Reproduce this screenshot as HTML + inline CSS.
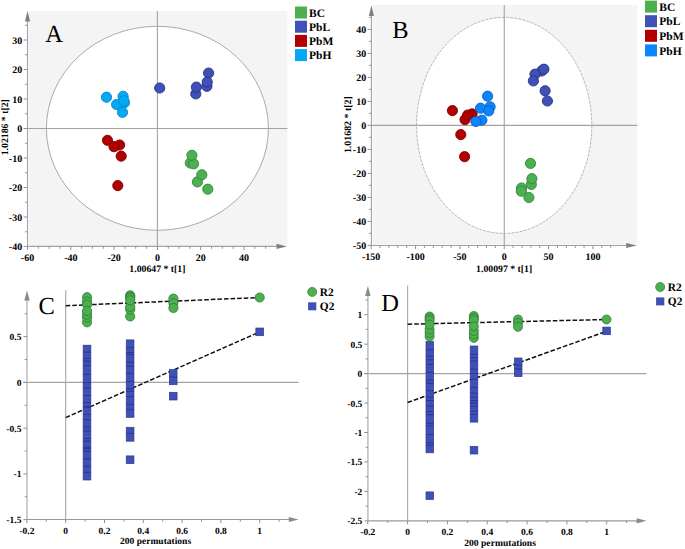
<!DOCTYPE html>
<html><head><meta charset="utf-8"><title>Figure</title>
<style>
html,body{margin:0;padding:0;background:#fff;}
body{width:685px;height:549px;overflow:hidden;font-family:"Liberation Serif",serif;}
svg{display:block;text-rendering:geometricPrecision;}
</style></head><body>
<svg width="685" height="549" viewBox="0 0 685 549">
<rect x="0" y="0" width="685" height="549" fill="#fff"/>
<rect x="28.7" y="10.9" width="258.7" height="235.5" fill="#f4f4f4"/>
<ellipse cx="157.4" cy="128.3" rx="111" ry="102" fill="#fff" stroke="#a0a0a0" stroke-width="0.9"/>
<line x1="27.5" y1="128.5" x2="287.4" y2="128.5" stroke="#a2a2a2" stroke-width="1.1" />
<line x1="157.4" y1="10.9" x2="157.4" y2="246.4" stroke="#a2a2a2" stroke-width="1.1" />
<line x1="27.5" y1="246.4" x2="27.5" y2="20" stroke="#a3a3a3" stroke-width="1.1" />
<path d="M27.5 10.8 L24.95 21.6 L30.05 21.6 Z" fill="#808080"/>
<line x1="27.5" y1="246.4" x2="278" y2="246.4" stroke="#a3a3a3" stroke-width="1.1" />
<path d="M286.8 246.4 L276.5 243.85 L276.5 248.95 Z" fill="#808080"/>
<line x1="23.7" y1="246.5" x2="27.5" y2="246.5" stroke="#929292" stroke-width="1.0" />
<text x="22.2" y="250.1" font-size="10" text-anchor="end" font-family="Liberation Serif" font-weight="bold" >-40</text>
<line x1="25.1" y1="231.75" x2="27.5" y2="231.75" stroke="#929292" stroke-width="1.0" />
<line x1="23.7" y1="217" x2="27.5" y2="217" stroke="#929292" stroke-width="1.0" />
<text x="22.2" y="220.6" font-size="10" text-anchor="end" font-family="Liberation Serif" font-weight="bold" >-30</text>
<line x1="25.1" y1="202.25" x2="27.5" y2="202.25" stroke="#929292" stroke-width="1.0" />
<line x1="23.7" y1="187.5" x2="27.5" y2="187.5" stroke="#929292" stroke-width="1.0" />
<text x="22.2" y="191.1" font-size="10" text-anchor="end" font-family="Liberation Serif" font-weight="bold" >-20</text>
<line x1="25.1" y1="172.75" x2="27.5" y2="172.75" stroke="#929292" stroke-width="1.0" />
<line x1="23.7" y1="158" x2="27.5" y2="158" stroke="#929292" stroke-width="1.0" />
<text x="22.2" y="161.6" font-size="10" text-anchor="end" font-family="Liberation Serif" font-weight="bold" >-10</text>
<line x1="25.1" y1="143.25" x2="27.5" y2="143.25" stroke="#929292" stroke-width="1.0" />
<line x1="23.7" y1="128.5" x2="27.5" y2="128.5" stroke="#929292" stroke-width="1.0" />
<text x="22.2" y="132.1" font-size="10" text-anchor="end" font-family="Liberation Serif" font-weight="bold" >0</text>
<line x1="25.1" y1="113.75" x2="27.5" y2="113.75" stroke="#929292" stroke-width="1.0" />
<line x1="23.7" y1="99" x2="27.5" y2="99" stroke="#929292" stroke-width="1.0" />
<text x="22.2" y="102.6" font-size="10" text-anchor="end" font-family="Liberation Serif" font-weight="bold" >10</text>
<line x1="25.1" y1="84.25" x2="27.5" y2="84.25" stroke="#929292" stroke-width="1.0" />
<line x1="23.7" y1="69.5" x2="27.5" y2="69.5" stroke="#929292" stroke-width="1.0" />
<text x="22.2" y="73.1" font-size="10" text-anchor="end" font-family="Liberation Serif" font-weight="bold" >20</text>
<line x1="25.1" y1="54.75" x2="27.5" y2="54.75" stroke="#929292" stroke-width="1.0" />
<line x1="23.7" y1="40" x2="27.5" y2="40" stroke="#929292" stroke-width="1.0" />
<text x="22.2" y="43.6" font-size="10" text-anchor="end" font-family="Liberation Serif" font-weight="bold" >30</text>
<line x1="25.1" y1="25.25" x2="27.5" y2="25.25" stroke="#929292" stroke-width="1.0" />
<line x1="27.5" y1="246.4" x2="27.5" y2="250" stroke="#929292" stroke-width="1.0" />
<text x="27.5" y="260.5" font-size="10" text-anchor="middle" font-family="Liberation Serif" font-weight="bold" >-60</text>
<line x1="38.33" y1="246.4" x2="38.33" y2="248.8" stroke="#929292" stroke-width="1.0" />
<line x1="49.15" y1="246.4" x2="49.15" y2="248.8" stroke="#929292" stroke-width="1.0" />
<line x1="59.98" y1="246.4" x2="59.98" y2="248.8" stroke="#929292" stroke-width="1.0" />
<line x1="70.8" y1="246.4" x2="70.8" y2="250" stroke="#929292" stroke-width="1.0" />
<text x="70.8" y="260.5" font-size="10" text-anchor="middle" font-family="Liberation Serif" font-weight="bold" >-40</text>
<line x1="81.62" y1="246.4" x2="81.62" y2="248.8" stroke="#929292" stroke-width="1.0" />
<line x1="92.45" y1="246.4" x2="92.45" y2="248.8" stroke="#929292" stroke-width="1.0" />
<line x1="103.28" y1="246.4" x2="103.28" y2="248.8" stroke="#929292" stroke-width="1.0" />
<line x1="114.1" y1="246.4" x2="114.1" y2="250" stroke="#929292" stroke-width="1.0" />
<text x="114.1" y="260.5" font-size="10" text-anchor="middle" font-family="Liberation Serif" font-weight="bold" >-20</text>
<line x1="124.93" y1="246.4" x2="124.93" y2="248.8" stroke="#929292" stroke-width="1.0" />
<line x1="135.75" y1="246.4" x2="135.75" y2="248.8" stroke="#929292" stroke-width="1.0" />
<line x1="146.58" y1="246.4" x2="146.58" y2="248.8" stroke="#929292" stroke-width="1.0" />
<line x1="157.4" y1="246.4" x2="157.4" y2="250" stroke="#929292" stroke-width="1.0" />
<text x="157.4" y="260.5" font-size="10" text-anchor="middle" font-family="Liberation Serif" font-weight="bold" >0</text>
<line x1="168.22" y1="246.4" x2="168.22" y2="248.8" stroke="#929292" stroke-width="1.0" />
<line x1="179.05" y1="246.4" x2="179.05" y2="248.8" stroke="#929292" stroke-width="1.0" />
<line x1="189.88" y1="246.4" x2="189.88" y2="248.8" stroke="#929292" stroke-width="1.0" />
<line x1="200.7" y1="246.4" x2="200.7" y2="250" stroke="#929292" stroke-width="1.0" />
<text x="200.7" y="260.5" font-size="10" text-anchor="middle" font-family="Liberation Serif" font-weight="bold" >20</text>
<line x1="211.53" y1="246.4" x2="211.53" y2="248.8" stroke="#929292" stroke-width="1.0" />
<line x1="222.35" y1="246.4" x2="222.35" y2="248.8" stroke="#929292" stroke-width="1.0" />
<line x1="233.18" y1="246.4" x2="233.18" y2="248.8" stroke="#929292" stroke-width="1.0" />
<line x1="244" y1="246.4" x2="244" y2="250" stroke="#929292" stroke-width="1.0" />
<text x="244" y="260.5" font-size="10" text-anchor="middle" font-family="Liberation Serif" font-weight="bold" >40</text>
<line x1="254.82" y1="246.4" x2="254.82" y2="248.8" stroke="#929292" stroke-width="1.0" />
<line x1="265.65" y1="246.4" x2="265.65" y2="248.8" stroke="#929292" stroke-width="1.0" />
<text x="157.4" y="272.4" font-size="9.75" text-anchor="middle" font-family="Liberation Serif" font-weight="bold" >1.00647 * t[1]</text>
<text transform="translate(8.3 127.25) rotate(-90)" font-size="9.75" text-anchor="middle" font-family="Liberation Serif" font-weight="bold">1.02186 * t[2]</text>
<text x="45.3" y="42.3" font-size="24.5" font-family="Liberation Serif">A</text>
<circle cx="190.3" cy="163" r="5.1" fill="#4caf50" stroke="#33873a" stroke-width="0.9"/>
<circle cx="193.6" cy="163.8" r="5.1" fill="#4caf50" stroke="#33873a" stroke-width="0.9"/>
<circle cx="191.9" cy="155.3" r="5.1" fill="#4caf50" stroke="#33873a" stroke-width="0.9"/>
<circle cx="197.4" cy="181.9" r="5.1" fill="#4caf50" stroke="#33873a" stroke-width="0.9"/>
<circle cx="201.8" cy="174.8" r="5.1" fill="#4caf50" stroke="#33873a" stroke-width="0.9"/>
<circle cx="207.8" cy="189.2" r="5.1" fill="#4caf50" stroke="#33873a" stroke-width="0.9"/>
<circle cx="159.7" cy="88" r="5.1" fill="#3f51b5" stroke="#26318a" stroke-width="0.9"/>
<circle cx="195.8" cy="93.9" r="5.1" fill="#3f51b5" stroke="#26318a" stroke-width="0.9"/>
<circle cx="196.4" cy="87.1" r="5.1" fill="#3f51b5" stroke="#26318a" stroke-width="0.9"/>
<circle cx="208.6" cy="73.1" r="5.1" fill="#3f51b5" stroke="#26318a" stroke-width="0.9"/>
<circle cx="206.9" cy="86.3" r="5.1" fill="#3f51b5" stroke="#26318a" stroke-width="0.9"/>
<circle cx="207.2" cy="82" r="5.1" fill="#3f51b5" stroke="#26318a" stroke-width="0.9"/>
<circle cx="107.5" cy="140.3" r="5.1" fill="#b00000" stroke="#820000" stroke-width="0.9"/>
<circle cx="119.6" cy="145" r="5.1" fill="#b00000" stroke="#820000" stroke-width="0.9"/>
<circle cx="114" cy="146.7" r="5.1" fill="#b00000" stroke="#820000" stroke-width="0.9"/>
<circle cx="121.2" cy="156.2" r="5.1" fill="#b00000" stroke="#820000" stroke-width="0.9"/>
<circle cx="117.8" cy="185.6" r="5.1" fill="#b00000" stroke="#820000" stroke-width="0.9"/>
<circle cx="106.5" cy="97.2" r="5.1" fill="#03a9f4" stroke="#0784c0" stroke-width="0.9"/>
<circle cx="123.1" cy="96.3" r="5.1" fill="#03a9f4" stroke="#0784c0" stroke-width="0.9"/>
<circle cx="124.4" cy="102.8" r="5.1" fill="#03a9f4" stroke="#0784c0" stroke-width="0.9"/>
<circle cx="116.6" cy="104.5" r="5.1" fill="#03a9f4" stroke="#0784c0" stroke-width="0.9"/>
<circle cx="123.9" cy="100.7" r="5.1" fill="#03a9f4" stroke="#0784c0" stroke-width="0.9"/>
<circle cx="122.5" cy="112.3" r="5.1" fill="#03a9f4" stroke="#0784c0" stroke-width="0.9"/>
<rect x="295" y="6.5" width="12" height="12" fill="#4caf50"/>
<text x="309" y="16.6" font-size="11.5" text-anchor="start" font-family="Liberation Serif" font-weight="bold" >BC</text>
<rect x="295" y="20.7" width="12" height="12" fill="#3f51b5"/>
<text x="309" y="30.8" font-size="11.5" text-anchor="start" font-family="Liberation Serif" font-weight="bold" >PbL</text>
<rect x="295" y="34.9" width="12" height="12" fill="#b00000"/>
<text x="309" y="45" font-size="11.5" text-anchor="start" font-family="Liberation Serif" font-weight="bold" >PbM</text>
<rect x="295" y="49.1" width="12" height="12" fill="#03a9f4"/>
<text x="309" y="59.2" font-size="11.5" text-anchor="start" font-family="Liberation Serif" font-weight="bold" >PbH</text>
<rect x="372.6" y="4.9" width="264.7" height="240.6" fill="#f4f4f4"/>
<ellipse cx="504.2" cy="125.4" rx="87.6" ry="108" fill="#fff" stroke="#a4a4a4" stroke-width="0.8" stroke-dasharray="3 1.1"/>
<line x1="371.4" y1="125.4" x2="637.3" y2="125.4" stroke="#a2a2a2" stroke-width="1.1" />
<line x1="504.25" y1="4.9" x2="504.25" y2="245.5" stroke="#a2a2a2" stroke-width="1.1" />
<line x1="371.4" y1="245.5" x2="371.4" y2="14" stroke="#a3a3a3" stroke-width="1.1" />
<path d="M371.4 5.2 L368.85 15.9 L373.95 15.9 Z" fill="#808080"/>
<line x1="371.4" y1="245.5" x2="627" y2="245.5" stroke="#a3a3a3" stroke-width="1.1" />
<path d="M636.8 245.5 L626.2 242.95 L626.2 248.05 Z" fill="#808080"/>
<line x1="367.6" y1="245.4" x2="371.4" y2="245.4" stroke="#929292" stroke-width="1.0" />
<text x="366.2" y="249" font-size="10" text-anchor="end" font-family="Liberation Serif" font-weight="bold" >-50</text>
<line x1="369" y1="233.4" x2="371.4" y2="233.4" stroke="#929292" stroke-width="1.0" />
<line x1="367.6" y1="221.4" x2="371.4" y2="221.4" stroke="#929292" stroke-width="1.0" />
<text x="366.2" y="225" font-size="10" text-anchor="end" font-family="Liberation Serif" font-weight="bold" >-40</text>
<line x1="369" y1="209.4" x2="371.4" y2="209.4" stroke="#929292" stroke-width="1.0" />
<line x1="367.6" y1="197.4" x2="371.4" y2="197.4" stroke="#929292" stroke-width="1.0" />
<text x="366.2" y="201" font-size="10" text-anchor="end" font-family="Liberation Serif" font-weight="bold" >-30</text>
<line x1="369" y1="185.4" x2="371.4" y2="185.4" stroke="#929292" stroke-width="1.0" />
<line x1="367.6" y1="173.4" x2="371.4" y2="173.4" stroke="#929292" stroke-width="1.0" />
<text x="366.2" y="177" font-size="10" text-anchor="end" font-family="Liberation Serif" font-weight="bold" >-20</text>
<line x1="369" y1="161.4" x2="371.4" y2="161.4" stroke="#929292" stroke-width="1.0" />
<line x1="367.6" y1="149.4" x2="371.4" y2="149.4" stroke="#929292" stroke-width="1.0" />
<text x="366.2" y="153" font-size="10" text-anchor="end" font-family="Liberation Serif" font-weight="bold" >-10</text>
<line x1="369" y1="137.4" x2="371.4" y2="137.4" stroke="#929292" stroke-width="1.0" />
<line x1="367.6" y1="125.4" x2="371.4" y2="125.4" stroke="#929292" stroke-width="1.0" />
<text x="366.2" y="129" font-size="10" text-anchor="end" font-family="Liberation Serif" font-weight="bold" >0</text>
<line x1="369" y1="113.4" x2="371.4" y2="113.4" stroke="#929292" stroke-width="1.0" />
<line x1="367.6" y1="101.4" x2="371.4" y2="101.4" stroke="#929292" stroke-width="1.0" />
<text x="366.2" y="105" font-size="10" text-anchor="end" font-family="Liberation Serif" font-weight="bold" >10</text>
<line x1="369" y1="89.4" x2="371.4" y2="89.4" stroke="#929292" stroke-width="1.0" />
<line x1="367.6" y1="77.4" x2="371.4" y2="77.4" stroke="#929292" stroke-width="1.0" />
<text x="366.2" y="81" font-size="10" text-anchor="end" font-family="Liberation Serif" font-weight="bold" >20</text>
<line x1="369" y1="65.4" x2="371.4" y2="65.4" stroke="#929292" stroke-width="1.0" />
<line x1="367.6" y1="53.4" x2="371.4" y2="53.4" stroke="#929292" stroke-width="1.0" />
<text x="366.2" y="57" font-size="10" text-anchor="end" font-family="Liberation Serif" font-weight="bold" >30</text>
<line x1="369" y1="41.4" x2="371.4" y2="41.4" stroke="#929292" stroke-width="1.0" />
<line x1="367.6" y1="29.4" x2="371.4" y2="29.4" stroke="#929292" stroke-width="1.0" />
<text x="366.2" y="33" font-size="10" text-anchor="end" font-family="Liberation Serif" font-weight="bold" >40</text>
<line x1="369" y1="17.4" x2="371.4" y2="17.4" stroke="#929292" stroke-width="1.0" />
<line x1="371.2" y1="245.5" x2="371.2" y2="249.1" stroke="#929292" stroke-width="1.0" />
<text x="371.2" y="259.8" font-size="10" text-anchor="middle" font-family="Liberation Serif" font-weight="bold" >-150</text>
<line x1="380.07" y1="245.5" x2="380.07" y2="247.9" stroke="#929292" stroke-width="1.0" />
<line x1="388.94" y1="245.5" x2="388.94" y2="247.9" stroke="#929292" stroke-width="1.0" />
<line x1="397.81" y1="245.5" x2="397.81" y2="247.9" stroke="#929292" stroke-width="1.0" />
<line x1="406.68" y1="245.5" x2="406.68" y2="247.9" stroke="#929292" stroke-width="1.0" />
<line x1="415.55" y1="245.5" x2="415.55" y2="249.1" stroke="#929292" stroke-width="1.0" />
<text x="415.55" y="259.8" font-size="10" text-anchor="middle" font-family="Liberation Serif" font-weight="bold" >-100</text>
<line x1="424.42" y1="245.5" x2="424.42" y2="247.9" stroke="#929292" stroke-width="1.0" />
<line x1="433.29" y1="245.5" x2="433.29" y2="247.9" stroke="#929292" stroke-width="1.0" />
<line x1="442.16" y1="245.5" x2="442.16" y2="247.9" stroke="#929292" stroke-width="1.0" />
<line x1="451.03" y1="245.5" x2="451.03" y2="247.9" stroke="#929292" stroke-width="1.0" />
<line x1="459.9" y1="245.5" x2="459.9" y2="249.1" stroke="#929292" stroke-width="1.0" />
<text x="459.9" y="259.8" font-size="10" text-anchor="middle" font-family="Liberation Serif" font-weight="bold" >-50</text>
<line x1="468.77" y1="245.5" x2="468.77" y2="247.9" stroke="#929292" stroke-width="1.0" />
<line x1="477.64" y1="245.5" x2="477.64" y2="247.9" stroke="#929292" stroke-width="1.0" />
<line x1="486.51" y1="245.5" x2="486.51" y2="247.9" stroke="#929292" stroke-width="1.0" />
<line x1="495.38" y1="245.5" x2="495.38" y2="247.9" stroke="#929292" stroke-width="1.0" />
<line x1="504.25" y1="245.5" x2="504.25" y2="249.1" stroke="#929292" stroke-width="1.0" />
<text x="504.25" y="259.8" font-size="10" text-anchor="middle" font-family="Liberation Serif" font-weight="bold" >0</text>
<line x1="513.12" y1="245.5" x2="513.12" y2="247.9" stroke="#929292" stroke-width="1.0" />
<line x1="521.99" y1="245.5" x2="521.99" y2="247.9" stroke="#929292" stroke-width="1.0" />
<line x1="530.86" y1="245.5" x2="530.86" y2="247.9" stroke="#929292" stroke-width="1.0" />
<line x1="539.73" y1="245.5" x2="539.73" y2="247.9" stroke="#929292" stroke-width="1.0" />
<line x1="548.6" y1="245.5" x2="548.6" y2="249.1" stroke="#929292" stroke-width="1.0" />
<text x="548.6" y="259.8" font-size="10" text-anchor="middle" font-family="Liberation Serif" font-weight="bold" >50</text>
<line x1="557.47" y1="245.5" x2="557.47" y2="247.9" stroke="#929292" stroke-width="1.0" />
<line x1="566.34" y1="245.5" x2="566.34" y2="247.9" stroke="#929292" stroke-width="1.0" />
<line x1="575.21" y1="245.5" x2="575.21" y2="247.9" stroke="#929292" stroke-width="1.0" />
<line x1="584.08" y1="245.5" x2="584.08" y2="247.9" stroke="#929292" stroke-width="1.0" />
<line x1="592.95" y1="245.5" x2="592.95" y2="249.1" stroke="#929292" stroke-width="1.0" />
<text x="592.95" y="259.8" font-size="10" text-anchor="middle" font-family="Liberation Serif" font-weight="bold" >100</text>
<line x1="601.82" y1="245.5" x2="601.82" y2="247.9" stroke="#929292" stroke-width="1.0" />
<line x1="610.69" y1="245.5" x2="610.69" y2="247.9" stroke="#929292" stroke-width="1.0" />
<text x="504.15" y="272.3" font-size="9.75" text-anchor="middle" font-family="Liberation Serif" font-weight="bold" >1.00097 * t[1]</text>
<text transform="translate(350.6 124.7) rotate(-90)" font-size="9.9" text-anchor="middle" font-family="Liberation Serif" font-weight="bold">1.01682 * t[2]</text>
<text x="392.3" y="38.2" font-size="24.5" font-family="Liberation Serif">B</text>
<circle cx="530.5" cy="163.4" r="5.1" fill="#4caf50" stroke="#33873a" stroke-width="0.9"/>
<circle cx="531.3" cy="184.4" r="5.1" fill="#4caf50" stroke="#33873a" stroke-width="0.9"/>
<circle cx="531.9" cy="178.7" r="5.1" fill="#4caf50" stroke="#33873a" stroke-width="0.9"/>
<circle cx="521.5" cy="188" r="5.1" fill="#4caf50" stroke="#33873a" stroke-width="0.9"/>
<circle cx="521.3" cy="191.2" r="5.1" fill="#4caf50" stroke="#33873a" stroke-width="0.9"/>
<circle cx="528.9" cy="197.5" r="5.1" fill="#4caf50" stroke="#33873a" stroke-width="0.9"/>
<circle cx="547.4" cy="101" r="5.1" fill="#3f51b5" stroke="#26318a" stroke-width="0.9"/>
<circle cx="545.1" cy="90.8" r="5.1" fill="#3f51b5" stroke="#26318a" stroke-width="0.9"/>
<circle cx="541.6" cy="71" r="5.1" fill="#3f51b5" stroke="#26318a" stroke-width="0.9"/>
<circle cx="543.9" cy="69.2" r="5.1" fill="#3f51b5" stroke="#26318a" stroke-width="0.9"/>
<circle cx="535" cy="74.2" r="5.1" fill="#3f51b5" stroke="#26318a" stroke-width="0.9"/>
<circle cx="533.4" cy="80.9" r="5.1" fill="#3f51b5" stroke="#26318a" stroke-width="0.9"/>
<circle cx="452.4" cy="110.6" r="5.1" fill="#b00000" stroke="#820000" stroke-width="0.9"/>
<circle cx="472.1" cy="113.9" r="5.1" fill="#b00000" stroke="#820000" stroke-width="0.9"/>
<circle cx="465" cy="119.6" r="5.1" fill="#b00000" stroke="#820000" stroke-width="0.9"/>
<circle cx="467.6" cy="115.1" r="5.1" fill="#b00000" stroke="#820000" stroke-width="0.9"/>
<circle cx="460.8" cy="134.6" r="5.1" fill="#b00000" stroke="#820000" stroke-width="0.9"/>
<circle cx="464.6" cy="156.7" r="5.1" fill="#b00000" stroke="#820000" stroke-width="0.9"/>
<circle cx="487.6" cy="96.2" r="5.1" fill="#0a84ff" stroke="#0862c4" stroke-width="0.9"/>
<circle cx="490.1" cy="106.8" r="5.1" fill="#0a84ff" stroke="#0862c4" stroke-width="0.9"/>
<circle cx="480.5" cy="108.2" r="5.1" fill="#0a84ff" stroke="#0862c4" stroke-width="0.9"/>
<circle cx="488.7" cy="110.9" r="5.1" fill="#0a84ff" stroke="#0862c4" stroke-width="0.9"/>
<circle cx="481.9" cy="120.2" r="5.1" fill="#0a84ff" stroke="#0862c4" stroke-width="0.9"/>
<circle cx="475.9" cy="121.5" r="5.1" fill="#0a84ff" stroke="#0862c4" stroke-width="0.9"/>
<rect x="645" y="0.6" width="12" height="12" fill="#4caf50"/>
<text x="659.3" y="10.7" font-size="11.5" text-anchor="start" font-family="Liberation Serif" font-weight="bold" >BC</text>
<rect x="645" y="15.2" width="12" height="12" fill="#3f51b5"/>
<text x="659.3" y="25.3" font-size="11.5" text-anchor="start" font-family="Liberation Serif" font-weight="bold" >PbL</text>
<rect x="645" y="29.8" width="12" height="12" fill="#b00000"/>
<text x="659.3" y="39.9" font-size="11.5" text-anchor="start" font-family="Liberation Serif" font-weight="bold" >PbM</text>
<rect x="645" y="44.4" width="12" height="12" fill="#0a84ff"/>
<text x="659.3" y="54.5" font-size="11.5" text-anchor="start" font-family="Liberation Serif" font-weight="bold" >PbH</text>
<line x1="23.4" y1="382.4" x2="298.6" y2="382.4" stroke="#a5a5a5" stroke-width="1.1" />
<line x1="65.7" y1="290.3" x2="65.7" y2="519.5" stroke="#a5a5a5" stroke-width="1.1" />
<line x1="27" y1="519.5" x2="27" y2="298.6" stroke="#bdbdbd" stroke-width="1.5" />
<path d="M27 290.6 L24.25 300.6 L29.75 300.6 Z" fill="#8a8a8a"/>
<line x1="27" y1="519.5" x2="289.6" y2="519.5" stroke="#9a9a9a" stroke-width="1.2" />
<path d="M298.6 519.5 L288.8 516.9 L288.8 522.1 Z" fill="#8a8a8a"/>
<line x1="23.4" y1="519.65" x2="27" y2="519.65" stroke="#909090" stroke-width="1.0" />
<text x="21.4" y="523.15" font-size="9.5" text-anchor="end" font-family="Liberation Serif" font-weight="bold" >-1.5</text>
<line x1="24.7" y1="496.77" x2="27" y2="496.77" stroke="#909090" stroke-width="1.0" />
<line x1="23.4" y1="473.9" x2="27" y2="473.9" stroke="#909090" stroke-width="1.0" />
<text x="21.4" y="477.4" font-size="9.5" text-anchor="end" font-family="Liberation Serif" font-weight="bold" >-1</text>
<line x1="24.7" y1="451.02" x2="27" y2="451.02" stroke="#909090" stroke-width="1.0" />
<line x1="23.4" y1="428.15" x2="27" y2="428.15" stroke="#909090" stroke-width="1.0" />
<text x="21.4" y="431.65" font-size="9.5" text-anchor="end" font-family="Liberation Serif" font-weight="bold" >-0.5</text>
<line x1="24.7" y1="405.27" x2="27" y2="405.27" stroke="#909090" stroke-width="1.0" />
<line x1="23.4" y1="382.4" x2="27" y2="382.4" stroke="#909090" stroke-width="1.0" />
<text x="21.4" y="385.9" font-size="9.5" text-anchor="end" font-family="Liberation Serif" font-weight="bold" >0</text>
<line x1="24.7" y1="359.52" x2="27" y2="359.52" stroke="#909090" stroke-width="1.0" />
<line x1="23.4" y1="336.65" x2="27" y2="336.65" stroke="#909090" stroke-width="1.0" />
<text x="21.4" y="340.15" font-size="9.5" text-anchor="end" font-family="Liberation Serif" font-weight="bold" >0.5</text>
<line x1="24.7" y1="313.77" x2="27" y2="313.77" stroke="#909090" stroke-width="1.0" />
<line x1="26.9" y1="519.5" x2="26.9" y2="523.1" stroke="#909090" stroke-width="1.0" />
<text x="26.9" y="533.6" font-size="9.5" text-anchor="middle" font-family="Liberation Serif" font-weight="bold" >-0.2</text>
<line x1="46.3" y1="519.5" x2="46.3" y2="521.7" stroke="#909090" stroke-width="1.0" />
<line x1="65.7" y1="519.5" x2="65.7" y2="523.1" stroke="#909090" stroke-width="1.0" />
<text x="65.7" y="533.6" font-size="9.5" text-anchor="middle" font-family="Liberation Serif" font-weight="bold" >0</text>
<line x1="85.1" y1="519.5" x2="85.1" y2="521.7" stroke="#909090" stroke-width="1.0" />
<line x1="104.5" y1="519.5" x2="104.5" y2="523.1" stroke="#909090" stroke-width="1.0" />
<text x="104.5" y="533.6" font-size="9.5" text-anchor="middle" font-family="Liberation Serif" font-weight="bold" >0.2</text>
<line x1="123.9" y1="519.5" x2="123.9" y2="521.7" stroke="#909090" stroke-width="1.0" />
<line x1="143.3" y1="519.5" x2="143.3" y2="523.1" stroke="#909090" stroke-width="1.0" />
<text x="143.3" y="533.6" font-size="9.5" text-anchor="middle" font-family="Liberation Serif" font-weight="bold" >0.4</text>
<line x1="162.7" y1="519.5" x2="162.7" y2="521.7" stroke="#909090" stroke-width="1.0" />
<line x1="182.1" y1="519.5" x2="182.1" y2="523.1" stroke="#909090" stroke-width="1.0" />
<text x="182.1" y="533.6" font-size="9.5" text-anchor="middle" font-family="Liberation Serif" font-weight="bold" >0.6</text>
<line x1="201.5" y1="519.5" x2="201.5" y2="521.7" stroke="#909090" stroke-width="1.0" />
<line x1="220.9" y1="519.5" x2="220.9" y2="523.1" stroke="#909090" stroke-width="1.0" />
<text x="220.9" y="533.6" font-size="9.5" text-anchor="middle" font-family="Liberation Serif" font-weight="bold" >0.8</text>
<line x1="240.3" y1="519.5" x2="240.3" y2="521.7" stroke="#909090" stroke-width="1.0" />
<line x1="259.7" y1="519.5" x2="259.7" y2="523.1" stroke="#909090" stroke-width="1.0" />
<text x="259.7" y="533.6" font-size="9.5" text-anchor="middle" font-family="Liberation Serif" font-weight="bold" >1</text>
<line x1="279.1" y1="519.5" x2="279.1" y2="521.7" stroke="#909090" stroke-width="1.0" />
<text x="155.6" y="544.3" font-size="9.5" text-anchor="middle" font-family="Liberation Serif" font-weight="bold" >200 permutations</text>
<text x="38.4" y="313.5" font-size="24.5" font-family="Liberation Serif">C</text>
<line x1="65.7" y1="305.7" x2="259.7" y2="297.5" stroke="#111" stroke-width="1.5" stroke-dasharray="4.6 2.0"/>
<line x1="65.7" y1="417.6" x2="259.7" y2="331.9" stroke="#111" stroke-width="1.5" stroke-dasharray="4.6 2.0"/>
<rect x="83.15" y="345.2" width="7.7" height="134.8" fill="#3f51b5" stroke="#2b3990" stroke-width="0.7"/>
<line x1="83.15" y1="352.1" x2="90.85" y2="352.1" stroke="#27348a" stroke-width="0.9" />
<line x1="83.15" y1="358.5" x2="90.85" y2="358.5" stroke="#27348a" stroke-width="0.9" />
<line x1="83.15" y1="361" x2="90.85" y2="361" stroke="#27348a" stroke-width="0.9" />
<line x1="83.15" y1="365.5" x2="90.85" y2="365.5" stroke="#27348a" stroke-width="0.9" />
<line x1="83.15" y1="374.4" x2="90.85" y2="374.4" stroke="#27348a" stroke-width="0.9" />
<line x1="83.15" y1="382.7" x2="90.85" y2="382.7" stroke="#27348a" stroke-width="0.9" />
<line x1="83.15" y1="388.2" x2="90.85" y2="388.2" stroke="#27348a" stroke-width="0.9" />
<line x1="83.15" y1="395.5" x2="90.85" y2="395.5" stroke="#27348a" stroke-width="0.9" />
<line x1="83.15" y1="402.5" x2="90.85" y2="402.5" stroke="#27348a" stroke-width="0.9" />
<line x1="83.15" y1="406.6" x2="90.85" y2="406.6" stroke="#27348a" stroke-width="0.9" />
<line x1="83.15" y1="407.2" x2="90.85" y2="407.2" stroke="#27348a" stroke-width="0.9" />
<line x1="83.15" y1="414.5" x2="90.85" y2="414.5" stroke="#27348a" stroke-width="0.9" />
<line x1="83.15" y1="419.6" x2="90.85" y2="419.6" stroke="#27348a" stroke-width="0.9" />
<line x1="83.15" y1="426.9" x2="90.85" y2="426.9" stroke="#27348a" stroke-width="0.9" />
<line x1="83.15" y1="431.2" x2="90.85" y2="431.2" stroke="#27348a" stroke-width="0.9" />
<line x1="83.15" y1="438.5" x2="90.85" y2="438.5" stroke="#27348a" stroke-width="0.9" />
<line x1="83.15" y1="441.2" x2="90.85" y2="441.2" stroke="#27348a" stroke-width="0.9" />
<line x1="83.15" y1="447.3" x2="90.85" y2="447.3" stroke="#27348a" stroke-width="0.9" />
<line x1="83.15" y1="448.7" x2="90.85" y2="448.7" stroke="#27348a" stroke-width="0.9" />
<line x1="83.15" y1="451.4" x2="90.85" y2="451.4" stroke="#27348a" stroke-width="0.9" />
<line x1="83.15" y1="458.9" x2="90.85" y2="458.9" stroke="#27348a" stroke-width="0.9" />
<line x1="83.15" y1="466.2" x2="90.85" y2="466.2" stroke="#27348a" stroke-width="0.9" />
<line x1="83.15" y1="472.3" x2="90.85" y2="472.3" stroke="#27348a" stroke-width="0.9" />
<rect x="126.25" y="339.9" width="7.7" height="77.4" fill="#3f51b5" stroke="#2b3990" stroke-width="0.7"/>
<line x1="126.25" y1="347.6" x2="133.95" y2="347.6" stroke="#27348a" stroke-width="0.9" />
<line x1="126.25" y1="352.5" x2="133.95" y2="352.5" stroke="#27348a" stroke-width="0.9" />
<line x1="126.25" y1="354.5" x2="133.95" y2="354.5" stroke="#27348a" stroke-width="0.9" />
<line x1="126.25" y1="362.3" x2="133.95" y2="362.3" stroke="#27348a" stroke-width="0.9" />
<line x1="126.25" y1="366.1" x2="133.95" y2="366.1" stroke="#27348a" stroke-width="0.9" />
<line x1="126.25" y1="373.3" x2="133.95" y2="373.3" stroke="#27348a" stroke-width="0.9" />
<line x1="126.25" y1="381.4" x2="133.95" y2="381.4" stroke="#27348a" stroke-width="0.9" />
<line x1="126.25" y1="388.6" x2="133.95" y2="388.6" stroke="#27348a" stroke-width="0.9" />
<line x1="126.25" y1="391.2" x2="133.95" y2="391.2" stroke="#27348a" stroke-width="0.9" />
<line x1="126.25" y1="396.6" x2="133.95" y2="396.6" stroke="#27348a" stroke-width="0.9" />
<line x1="126.25" y1="404.3" x2="133.95" y2="404.3" stroke="#27348a" stroke-width="0.9" />
<line x1="126.25" y1="409.6" x2="133.95" y2="409.6" stroke="#27348a" stroke-width="0.9" />
<rect x="126.25" y="427.3" width="7.7" height="13.9" fill="#3f51b5" stroke="#2b3990" stroke-width="0.7"/>
<line x1="126.25" y1="433.5" x2="133.95" y2="433.5" stroke="#27348a" stroke-width="0.9" />
<rect x="126.25" y="455.9" width="7.7" height="7.7" fill="#3f51b5" stroke="#2b3990" stroke-width="0.7"/>
<rect x="169.35" y="369.6" width="7.7" height="15.1" fill="#3f51b5" stroke="#2b3990" stroke-width="0.7"/>
<line x1="169.35" y1="377" x2="177.05" y2="377" stroke="#27348a" stroke-width="0.9" />
<rect x="169.35" y="392.3" width="7.7" height="7.7" fill="#3f51b5" stroke="#2b3990" stroke-width="0.7"/>
<rect x="255.85" y="328" width="7.7" height="7.7" fill="#3f51b5" stroke="#2b3990" stroke-width="0.7"/>
<circle cx="87.05" cy="297.2" r="4.6" fill="#4caf50" stroke="#2e7d32" stroke-width="0.8"/>
<circle cx="87.05" cy="301.5" r="4.6" fill="#4caf50" stroke="#2e7d32" stroke-width="0.8"/>
<circle cx="87.05" cy="304.5" r="4.6" fill="#4caf50" stroke="#2e7d32" stroke-width="0.8"/>
<circle cx="87.05" cy="322.3" r="4.6" fill="#4caf50" stroke="#2e7d32" stroke-width="0.8"/>
<circle cx="87.05" cy="317.5" r="4.6" fill="#4caf50" stroke="#2e7d32" stroke-width="0.8"/>
<circle cx="87.05" cy="314.5" r="4.6" fill="#4caf50" stroke="#2e7d32" stroke-width="0.8"/>
<circle cx="87.05" cy="311" r="4.6" fill="#4caf50" stroke="#2e7d32" stroke-width="0.8"/>
<circle cx="130.2" cy="295.3" r="4.6" fill="#4caf50" stroke="#2e7d32" stroke-width="0.8"/>
<circle cx="130.2" cy="296.6" r="4.6" fill="#4caf50" stroke="#2e7d32" stroke-width="0.8"/>
<circle cx="130.2" cy="298" r="4.6" fill="#4caf50" stroke="#2e7d32" stroke-width="0.8"/>
<circle cx="130.2" cy="316.4" r="4.6" fill="#4caf50" stroke="#2e7d32" stroke-width="0.8"/>
<circle cx="130.2" cy="309.5" r="4.6" fill="#4caf50" stroke="#2e7d32" stroke-width="0.8"/>
<circle cx="130.2" cy="306.8" r="4.6" fill="#4caf50" stroke="#2e7d32" stroke-width="0.8"/>
<circle cx="130.2" cy="300.3" r="4.6" fill="#4caf50" stroke="#2e7d32" stroke-width="0.8"/>
<circle cx="173.4" cy="298.6" r="4.6" fill="#4caf50" stroke="#2e7d32" stroke-width="0.8"/>
<circle cx="173.4" cy="303.3" r="4.6" fill="#4caf50" stroke="#2e7d32" stroke-width="0.8"/>
<circle cx="173.4" cy="308" r="4.6" fill="#4caf50" stroke="#2e7d32" stroke-width="0.8"/>
<circle cx="259.7" cy="297.5" r="4.6" fill="#4caf50" stroke="#2e7d32" stroke-width="0.8"/>
<circle cx="312.2" cy="291.9" r="4.5" fill="#4caf50" stroke="#33873a" stroke-width="0.8"/>
<text x="319.8" y="295.8" font-size="11.4" text-anchor="start" font-family="Liberation Serif" font-weight="bold" >R2</text>
<rect x="308.1" y="302.3" width="8.2" height="8" fill="#3f51b5"/>
<text x="319.8" y="310.3" font-size="11.4" text-anchor="start" font-family="Liberation Serif" font-weight="bold" >Q2</text>
<line x1="364.3" y1="373.6" x2="646.4" y2="373.6" stroke="#a5a5a5" stroke-width="1.1" />
<line x1="407.6" y1="285.5" x2="407.6" y2="520.8" stroke="#a5a5a5" stroke-width="1.1" />
<line x1="367.9" y1="520.8" x2="367.9" y2="294" stroke="#bdbdbd" stroke-width="1.5" />
<path d="M367.9 286 L365.15 296 L370.65 296 Z" fill="#8a8a8a"/>
<line x1="367.9" y1="520.8" x2="637.4" y2="520.8" stroke="#9a9a9a" stroke-width="1.2" />
<path d="M646.4 520.8 L636.6 518.2 L636.6 523.4 Z" fill="#8a8a8a"/>
<line x1="364.3" y1="520.85" x2="367.9" y2="520.85" stroke="#909090" stroke-width="1.0" />
<text x="362.3" y="524.35" font-size="9.5" text-anchor="end" font-family="Liberation Serif" font-weight="bold" >-2.5</text>
<line x1="365.6" y1="506.12" x2="367.9" y2="506.12" stroke="#909090" stroke-width="1.0" />
<line x1="364.3" y1="491.4" x2="367.9" y2="491.4" stroke="#909090" stroke-width="1.0" />
<text x="362.3" y="494.9" font-size="9.5" text-anchor="end" font-family="Liberation Serif" font-weight="bold" >-2</text>
<line x1="365.6" y1="476.68" x2="367.9" y2="476.68" stroke="#909090" stroke-width="1.0" />
<line x1="364.3" y1="461.95" x2="367.9" y2="461.95" stroke="#909090" stroke-width="1.0" />
<text x="362.3" y="465.45" font-size="9.5" text-anchor="end" font-family="Liberation Serif" font-weight="bold" >-1.5</text>
<line x1="365.6" y1="447.23" x2="367.9" y2="447.23" stroke="#909090" stroke-width="1.0" />
<line x1="364.3" y1="432.5" x2="367.9" y2="432.5" stroke="#909090" stroke-width="1.0" />
<text x="362.3" y="436" font-size="9.5" text-anchor="end" font-family="Liberation Serif" font-weight="bold" >-1</text>
<line x1="365.6" y1="417.78" x2="367.9" y2="417.78" stroke="#909090" stroke-width="1.0" />
<line x1="364.3" y1="403.05" x2="367.9" y2="403.05" stroke="#909090" stroke-width="1.0" />
<text x="362.3" y="406.55" font-size="9.5" text-anchor="end" font-family="Liberation Serif" font-weight="bold" >-0.5</text>
<line x1="365.6" y1="388.33" x2="367.9" y2="388.33" stroke="#909090" stroke-width="1.0" />
<line x1="364.3" y1="373.6" x2="367.9" y2="373.6" stroke="#909090" stroke-width="1.0" />
<text x="362.3" y="377.1" font-size="9.5" text-anchor="end" font-family="Liberation Serif" font-weight="bold" >0</text>
<line x1="365.6" y1="358.88" x2="367.9" y2="358.88" stroke="#909090" stroke-width="1.0" />
<line x1="364.3" y1="344.15" x2="367.9" y2="344.15" stroke="#909090" stroke-width="1.0" />
<text x="362.3" y="347.65" font-size="9.5" text-anchor="end" font-family="Liberation Serif" font-weight="bold" >0.5</text>
<line x1="365.6" y1="329.43" x2="367.9" y2="329.43" stroke="#909090" stroke-width="1.0" />
<line x1="364.3" y1="314.7" x2="367.9" y2="314.7" stroke="#909090" stroke-width="1.0" />
<text x="362.3" y="318.2" font-size="9.5" text-anchor="end" font-family="Liberation Serif" font-weight="bold" >1</text>
<line x1="365.6" y1="299.98" x2="367.9" y2="299.98" stroke="#909090" stroke-width="1.0" />
<line x1="367.78" y1="520.8" x2="367.78" y2="524.4" stroke="#909090" stroke-width="1.0" />
<text x="367.78" y="534.9" font-size="9.5" text-anchor="middle" font-family="Liberation Serif" font-weight="bold" >-0.2</text>
<line x1="387.69" y1="520.8" x2="387.69" y2="523" stroke="#909090" stroke-width="1.0" />
<line x1="407.6" y1="520.8" x2="407.6" y2="524.4" stroke="#909090" stroke-width="1.0" />
<text x="407.6" y="534.9" font-size="9.5" text-anchor="middle" font-family="Liberation Serif" font-weight="bold" >0</text>
<line x1="427.51" y1="520.8" x2="427.51" y2="523" stroke="#909090" stroke-width="1.0" />
<line x1="447.42" y1="520.8" x2="447.42" y2="524.4" stroke="#909090" stroke-width="1.0" />
<text x="447.42" y="534.9" font-size="9.5" text-anchor="middle" font-family="Liberation Serif" font-weight="bold" >0.2</text>
<line x1="467.33" y1="520.8" x2="467.33" y2="523" stroke="#909090" stroke-width="1.0" />
<line x1="487.24" y1="520.8" x2="487.24" y2="524.4" stroke="#909090" stroke-width="1.0" />
<text x="487.24" y="534.9" font-size="9.5" text-anchor="middle" font-family="Liberation Serif" font-weight="bold" >0.4</text>
<line x1="507.15" y1="520.8" x2="507.15" y2="523" stroke="#909090" stroke-width="1.0" />
<line x1="527.06" y1="520.8" x2="527.06" y2="524.4" stroke="#909090" stroke-width="1.0" />
<text x="527.06" y="534.9" font-size="9.5" text-anchor="middle" font-family="Liberation Serif" font-weight="bold" >0.6</text>
<line x1="546.97" y1="520.8" x2="546.97" y2="523" stroke="#909090" stroke-width="1.0" />
<line x1="566.88" y1="520.8" x2="566.88" y2="524.4" stroke="#909090" stroke-width="1.0" />
<text x="566.88" y="534.9" font-size="9.5" text-anchor="middle" font-family="Liberation Serif" font-weight="bold" >0.8</text>
<line x1="586.79" y1="520.8" x2="586.79" y2="523" stroke="#909090" stroke-width="1.0" />
<line x1="606.7" y1="520.8" x2="606.7" y2="524.4" stroke="#909090" stroke-width="1.0" />
<text x="606.7" y="534.9" font-size="9.5" text-anchor="middle" font-family="Liberation Serif" font-weight="bold" >1</text>
<line x1="626.61" y1="520.8" x2="626.61" y2="523" stroke="#909090" stroke-width="1.0" />
<text x="500.1" y="546.2" font-size="9.6" text-anchor="middle" font-family="Liberation Serif" font-weight="bold" >200 permutations</text>
<text x="381.2" y="310.9" font-size="24.5" font-family="Liberation Serif">D</text>
<line x1="407.6" y1="324.2" x2="606.7" y2="319.5" stroke="#111" stroke-width="1.5" stroke-dasharray="4.6 2.0"/>
<line x1="407.6" y1="402.5" x2="606.7" y2="331.2" stroke="#111" stroke-width="1.5" stroke-dasharray="4.6 2.0"/>
<rect x="426" y="341.6" width="7.6" height="111.2" fill="#3f51b5" stroke="#2b3990" stroke-width="0.7"/>
<line x1="426" y1="349.7" x2="433.6" y2="349.7" stroke="#27348a" stroke-width="0.9" />
<line x1="426" y1="356.2" x2="433.6" y2="356.2" stroke="#27348a" stroke-width="0.9" />
<line x1="426" y1="359.8" x2="433.6" y2="359.8" stroke="#27348a" stroke-width="0.9" />
<line x1="426" y1="364.4" x2="433.6" y2="364.4" stroke="#27348a" stroke-width="0.9" />
<line x1="426" y1="372.3" x2="433.6" y2="372.3" stroke="#27348a" stroke-width="0.9" />
<line x1="426" y1="380" x2="433.6" y2="380" stroke="#27348a" stroke-width="0.9" />
<line x1="426" y1="383.3" x2="433.6" y2="383.3" stroke="#27348a" stroke-width="0.9" />
<line x1="426" y1="390.7" x2="433.6" y2="390.7" stroke="#27348a" stroke-width="0.9" />
<line x1="426" y1="397.2" x2="433.6" y2="397.2" stroke="#27348a" stroke-width="0.9" />
<line x1="426" y1="400.5" x2="433.6" y2="400.5" stroke="#27348a" stroke-width="0.9" />
<line x1="426" y1="406.2" x2="433.6" y2="406.2" stroke="#27348a" stroke-width="0.9" />
<line x1="426" y1="411.5" x2="433.6" y2="411.5" stroke="#27348a" stroke-width="0.9" />
<line x1="426" y1="414.8" x2="433.6" y2="414.8" stroke="#27348a" stroke-width="0.9" />
<line x1="426" y1="423.3" x2="433.6" y2="423.3" stroke="#27348a" stroke-width="0.9" />
<line x1="426" y1="425.9" x2="433.6" y2="425.9" stroke="#27348a" stroke-width="0.9" />
<line x1="426" y1="434.5" x2="433.6" y2="434.5" stroke="#27348a" stroke-width="0.9" />
<line x1="426" y1="442.7" x2="433.6" y2="442.7" stroke="#27348a" stroke-width="0.9" />
<line x1="426" y1="445.2" x2="433.6" y2="445.2" stroke="#27348a" stroke-width="0.9" />
<rect x="426" y="491.9" width="7.6" height="7.6" fill="#3f51b5" stroke="#2b3990" stroke-width="0.7"/>
<rect x="470.2" y="346" width="7.6" height="76.1" fill="#3f51b5" stroke="#2b3990" stroke-width="0.7"/>
<line x1="470.2" y1="354.3" x2="477.8" y2="354.3" stroke="#27348a" stroke-width="0.9" />
<line x1="470.2" y1="357.5" x2="477.8" y2="357.5" stroke="#27348a" stroke-width="0.9" />
<line x1="470.2" y1="361.1" x2="477.8" y2="361.1" stroke="#27348a" stroke-width="0.9" />
<line x1="470.2" y1="369.3" x2="477.8" y2="369.3" stroke="#27348a" stroke-width="0.9" />
<line x1="470.2" y1="373.4" x2="477.8" y2="373.4" stroke="#27348a" stroke-width="0.9" />
<line x1="470.2" y1="379.2" x2="477.8" y2="379.2" stroke="#27348a" stroke-width="0.9" />
<line x1="470.2" y1="387.4" x2="477.8" y2="387.4" stroke="#27348a" stroke-width="0.9" />
<line x1="470.2" y1="393.1" x2="477.8" y2="393.1" stroke="#27348a" stroke-width="0.9" />
<line x1="470.2" y1="397.2" x2="477.8" y2="397.2" stroke="#27348a" stroke-width="0.9" />
<line x1="470.2" y1="400.5" x2="477.8" y2="400.5" stroke="#27348a" stroke-width="0.9" />
<line x1="470.2" y1="403" x2="477.8" y2="403" stroke="#27348a" stroke-width="0.9" />
<line x1="470.2" y1="406.2" x2="477.8" y2="406.2" stroke="#27348a" stroke-width="0.9" />
<line x1="470.2" y1="411.1" x2="477.8" y2="411.1" stroke="#27348a" stroke-width="0.9" />
<line x1="470.2" y1="414.5" x2="477.8" y2="414.5" stroke="#27348a" stroke-width="0.9" />
<rect x="470.2" y="446.4" width="7.6" height="7.6" fill="#3f51b5" stroke="#2b3990" stroke-width="0.7"/>
<rect x="514.4" y="358" width="7.6" height="18.6" fill="#3f51b5" stroke="#2b3990" stroke-width="0.7"/>
<line x1="514.4" y1="365.1" x2="522" y2="365.1" stroke="#27348a" stroke-width="0.9" />
<line x1="514.4" y1="369" x2="522" y2="369" stroke="#27348a" stroke-width="0.9" />
<rect x="602.8" y="327.1" width="7.6" height="7.6" fill="#3f51b5" stroke="#2b3990" stroke-width="0.7"/>
<circle cx="429.6" cy="316.5" r="4.5" fill="#4caf50" stroke="#2e7d32" stroke-width="0.8"/>
<circle cx="429.6" cy="318.5" r="4.5" fill="#4caf50" stroke="#2e7d32" stroke-width="0.8"/>
<circle cx="429.6" cy="320.5" r="4.5" fill="#4caf50" stroke="#2e7d32" stroke-width="0.8"/>
<circle cx="429.6" cy="336.6" r="4.5" fill="#4caf50" stroke="#2e7d32" stroke-width="0.8"/>
<circle cx="429.6" cy="333" r="4.5" fill="#4caf50" stroke="#2e7d32" stroke-width="0.8"/>
<circle cx="429.6" cy="329.5" r="4.5" fill="#4caf50" stroke="#2e7d32" stroke-width="0.8"/>
<circle cx="429.6" cy="324.6" r="4.5" fill="#4caf50" stroke="#2e7d32" stroke-width="0.8"/>
<circle cx="473.8" cy="316" r="4.5" fill="#4caf50" stroke="#2e7d32" stroke-width="0.8"/>
<circle cx="473.8" cy="318" r="4.5" fill="#4caf50" stroke="#2e7d32" stroke-width="0.8"/>
<circle cx="473.8" cy="320" r="4.5" fill="#4caf50" stroke="#2e7d32" stroke-width="0.8"/>
<circle cx="473.8" cy="337.9" r="4.5" fill="#4caf50" stroke="#2e7d32" stroke-width="0.8"/>
<circle cx="473.8" cy="334.5" r="4.5" fill="#4caf50" stroke="#2e7d32" stroke-width="0.8"/>
<circle cx="473.8" cy="331" r="4.5" fill="#4caf50" stroke="#2e7d32" stroke-width="0.8"/>
<circle cx="473.8" cy="326.3" r="4.5" fill="#4caf50" stroke="#2e7d32" stroke-width="0.8"/>
<circle cx="518" cy="319.5" r="4.5" fill="#4caf50" stroke="#2e7d32" stroke-width="0.8"/>
<circle cx="518" cy="323" r="4.5" fill="#4caf50" stroke="#2e7d32" stroke-width="0.8"/>
<circle cx="518" cy="326.8" r="4.5" fill="#4caf50" stroke="#2e7d32" stroke-width="0.8"/>
<circle cx="606.5" cy="319.5" r="4.5" fill="#4caf50" stroke="#2e7d32" stroke-width="0.8"/>
<circle cx="660.2" cy="287" r="4.5" fill="#4caf50" stroke="#33873a" stroke-width="0.8"/>
<text x="667.8" y="290.9" font-size="11.4" text-anchor="start" font-family="Liberation Serif" font-weight="bold" >R2</text>
<rect x="656.1" y="297.4" width="8.2" height="8" fill="#3f51b5"/>
<text x="667.8" y="305.4" font-size="11.4" text-anchor="start" font-family="Liberation Serif" font-weight="bold" >Q2</text>
</svg>
</body></html>
